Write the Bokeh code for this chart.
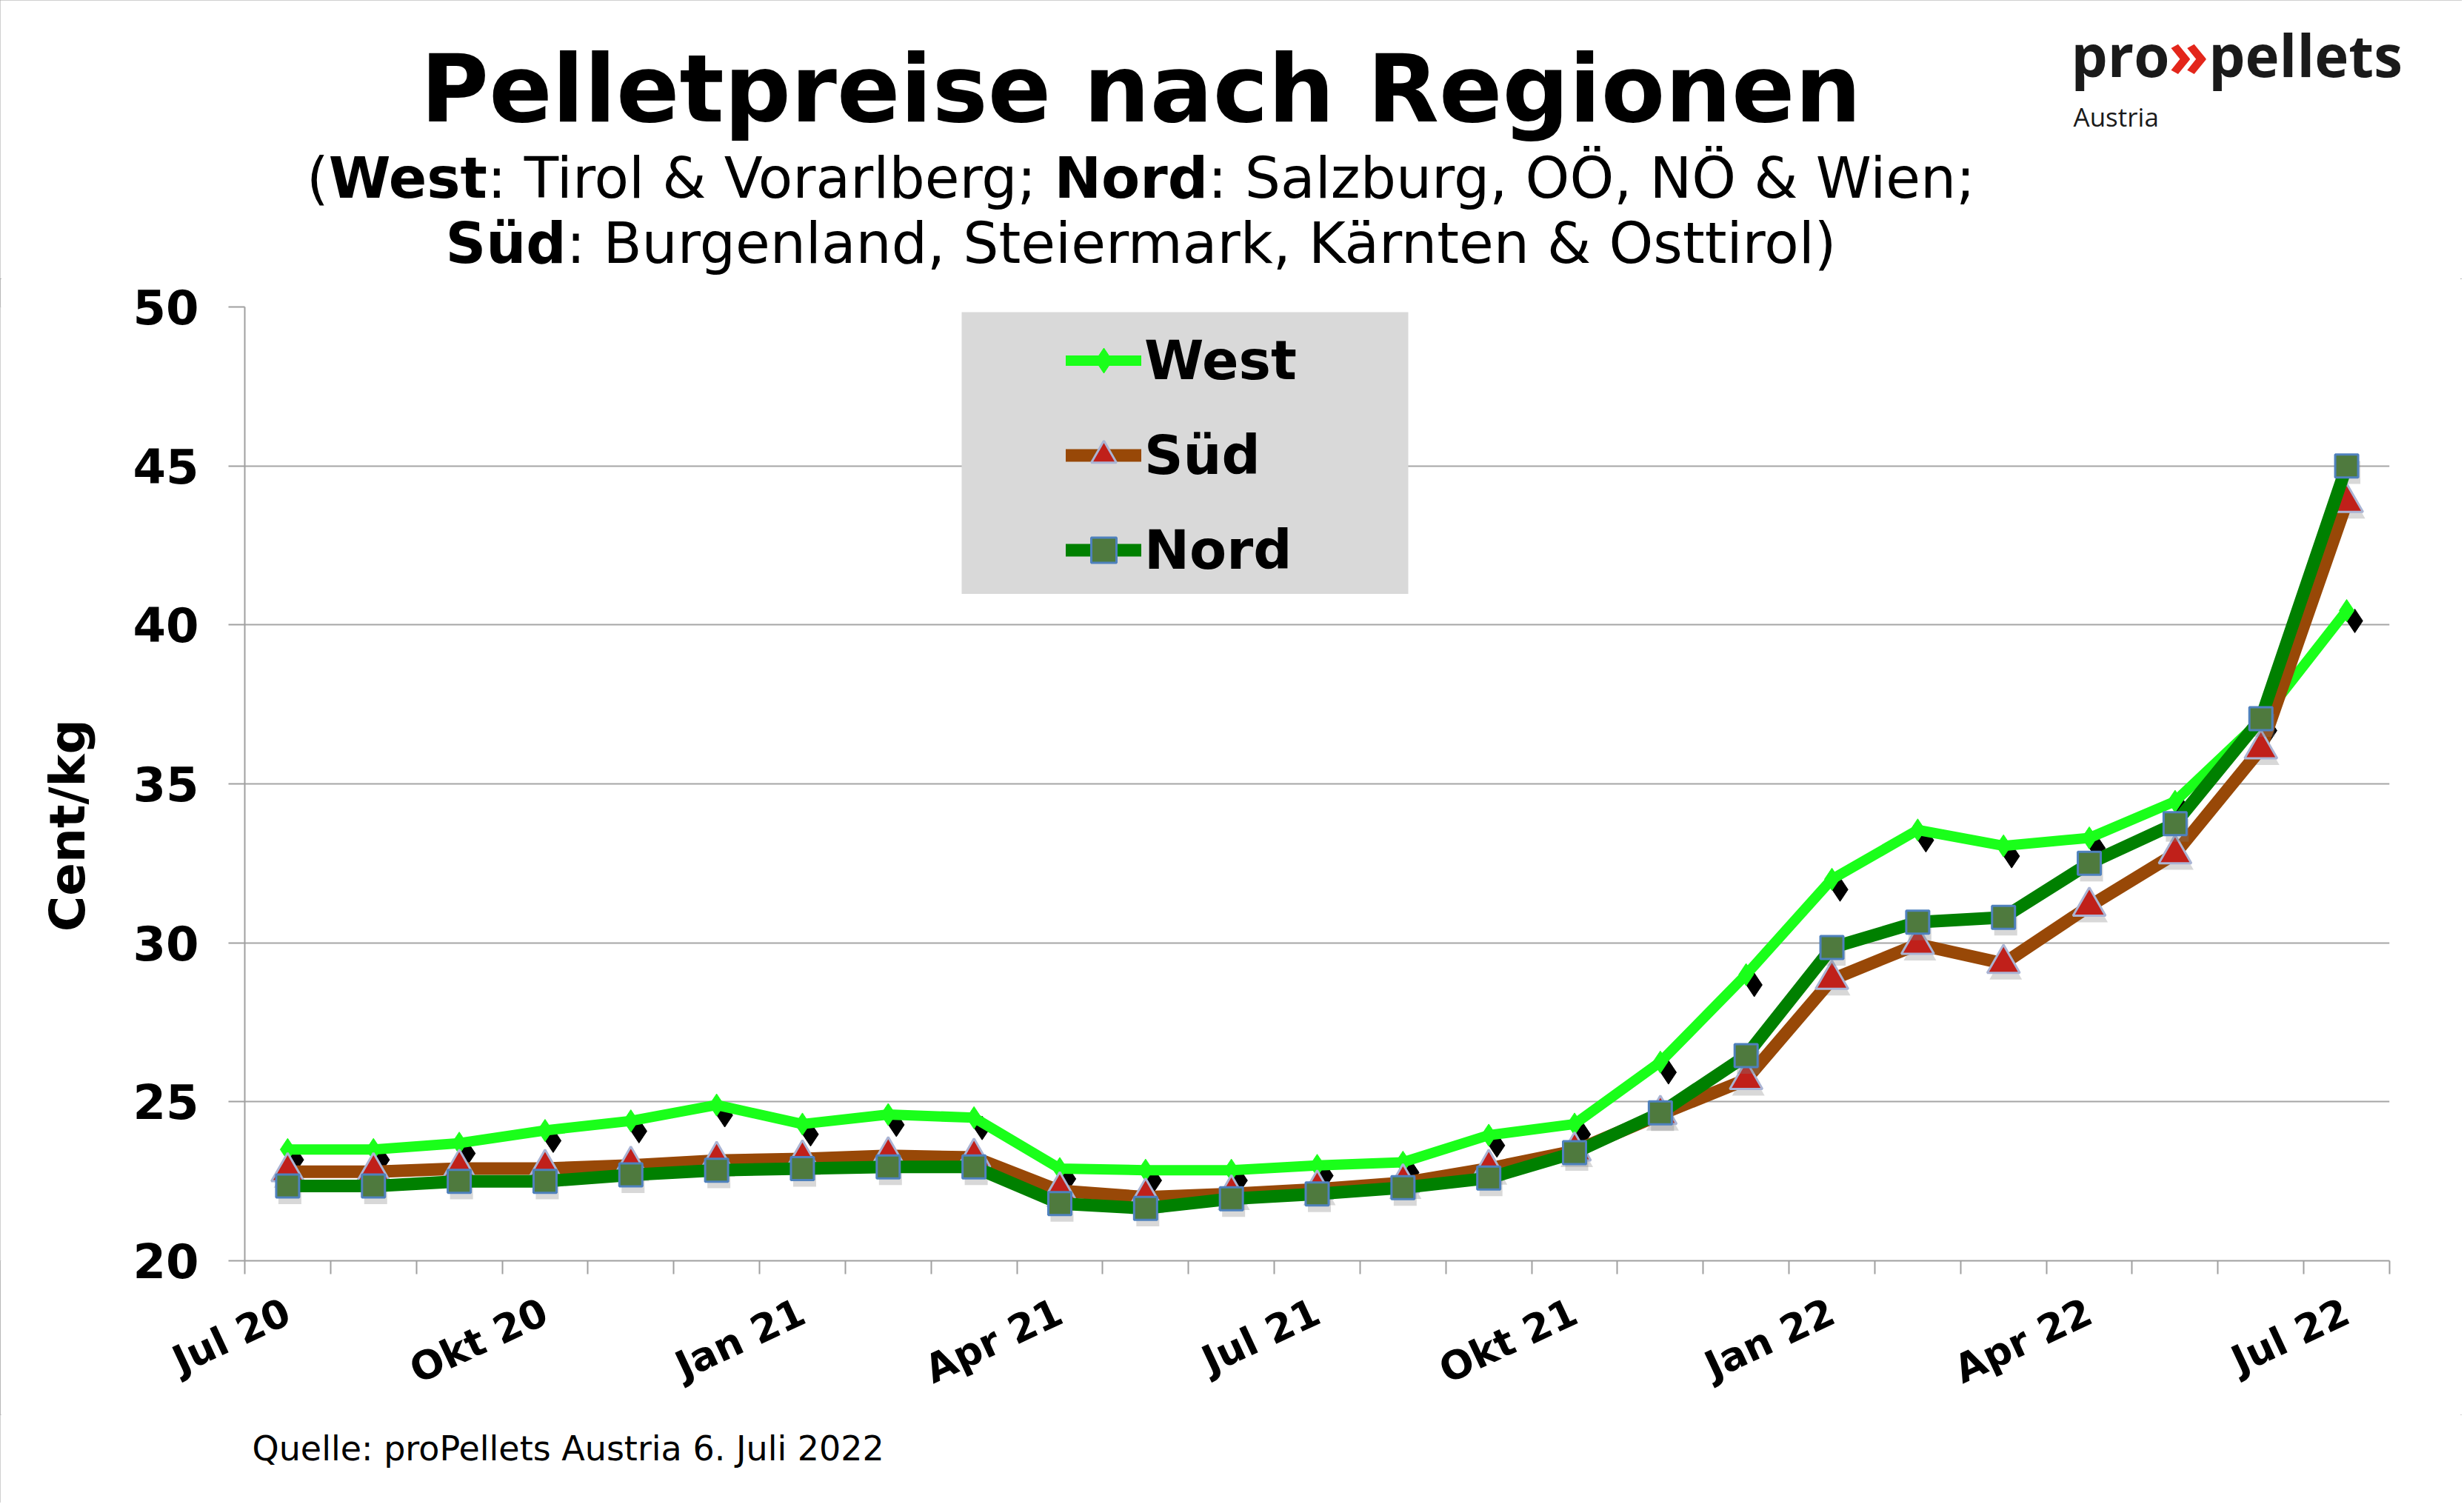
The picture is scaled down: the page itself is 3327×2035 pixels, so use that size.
import glob
import math

from bokeh.core.properties import value
from bokeh.embed import file_html
from bokeh.layouts import column, row
from bokeh.models import (BoxAnnotation, ColumnDataSource, FixedTicker, Legend,
                          LegendItem, Range1d)
from bokeh.plotting import figure
from bokeh.resources import INLINE

# ---------------------------------------------------------------- data
months = ["Jul 20", "Aug 20", "Sep 20", "Okt 20", "Nov 20", "Dez 20",
          "Jan 21", "Feb 21", "Mär 21", "Apr 21", "Mai 21", "Jun 21",
          "Jul 21", "Aug 21", "Sep 21", "Okt 21", "Nov 21", "Dez 21",
          "Jan 22", "Feb 22", "Mär 22", "Apr 22", "Mai 22", "Jun 22", "Jul 22"]

west = [23.5, 23.5, 23.7, 24.1, 24.4, 24.9, 24.3, 24.6, 24.5, 22.9, 22.85, 22.85,
        23.0, 23.1, 23.95, 24.3, 26.25, 29.0, 32.0, 33.55, 33.05, 33.3, 34.45,
        37.0, 40.45]
sued = [22.8, 22.8, 22.9, 22.9, 23.0, 23.15, 23.2, 23.3, 23.25, 22.2, 22.0, 22.1,
        22.25, 22.45, 22.9, 23.45, 24.6, 25.7, 28.85, 29.95, 29.35, 31.15, 32.8,
        36.1, 43.85]
nord = [22.35, 22.35, 22.5, 22.5, 22.7, 22.85, 22.9, 22.95, 22.95, 21.8, 21.65,
        21.95, 22.1, 22.3, 22.6, 23.4, 24.65, 26.45, 29.85, 30.65, 30.8, 32.5,
        33.75, 37.05, 45.0]

y_ticks = [20, 25, 30, 35, 40, 45, 50]
label_step = 3

title_text = "Pelletpreise nach Regionen"
subtitle_1 = [("(", False), ("West", True), (": Tirol & Vorarlberg; ", False),
              ("Nord", True), (": Salzburg, OÖ, NÖ & Wien;", False)]
subtitle_2 = [("Süd", True), (": Burgenland, Steiermark, Kärnten & Osttirol)", False)]
y_title = "Cent/kg"
source_text = "Quelle: proPellets Austria 6. Juli 2022"

# ---------------------------------------------------------------- layout (canvas px)
W, H = 3324, 2029
HEAD_H = 376            # title block
SIDE_W = 150            # strip holding the y title
MAIN_BOTTOM = 1910      # footer starts here
FL, FR, FT, FB = 330, 3226, 414, 1710      # plot frame edges
FONT = "DejaVu Sans"
LOGO = "Open Sans"
BASELINE_LIFT = 0.37    # text glyph "alphabetic" anchor sits this far (in em) below the baseline

n = len(months)
x_start, x_end = -0.5, n - 0.5
y_start, y_end = y_ticks[0], y_ticks[-1]
px_x = (FR - FL) / (x_end - x_start)
px_y = (FB - FT) / (y_end - y_start)


def dx(px):
    return x_start + (px - FL) / px_x


def dy(py):
    return y_end - (py - FT) / px_y


def _font_file(name):
    for root in ("/usr/share/fonts", "/usr/local/share/fonts"):
        hits = glob.glob(f"{root}/**/{name}", recursive=True)
        if hits:
            return hits[0]
    return None


def text_width(s, fname, size, fallback=0.62):
    path = _font_file(fname)
    if path:
        try:
            from PIL import ImageFont
            return ImageFont.truetype(path, size).getlength(s)
        except Exception:
            pass
    return fallback * size * len(s)


def blank(width, height):
    """Axis-less panel whose data units are canvas pixels (y up)."""
    f = figure(width=width, height=height, output_backend="svg", toolbar_location=None,
               title=None, x_range=Range1d(0, width), y_range=Range1d(0, height),
               x_axis_type=None, y_axis_type=None, min_border=0)
    f.outline_line_color = None
    f.background_fill_color = "white"
    f.border_fill_color = "white"
    return f


def put(f, x, y, text, font=FONT, size=50, bold=False, color="black",
        align="left", baseline="alphabetic", angle=0.0):
    if baseline == "alphabetic":
        y += BASELINE_LIFT * size
    f.text(x=[x], y=[y], text=[text], text_font=value(font),
           text_font_size=f"{size}px", text_font_style="bold" if bold else "normal",
           text_color=color, text_align=align, text_baseline=baseline, angle=angle)


# ---------------------------------------------------------------- header
head = blank(W, HEAD_H)
CENTER = 1540
put(head, CENTER, HEAD_H - 167, title_text, size=126, bold=True, align="center")


def rich_line(parts, baseline, size):
    widths = [text_width(t, "DejaVuSans-Bold.ttf" if b else "DejaVuSans.ttf", size,
                         0.68 if b else 0.6) for t, b in parts]
    x = CENTER - sum(widths) / 2
    for (t, b), w in zip(parts, widths):
        put(head, x, HEAD_H - baseline, t, size=size, bold=b)
        x += w


rich_line(subtitle_1, 268, 76)
rich_line(subtitle_2, 356, 76)

lx = 2796
for part, col, fs in (("pro", "#1a1a1a", 78), ("»", "#e3261b", 88), ("pellets", "#1a1a1a", 78)):
    put(head, lx, HEAD_H - 102, part, font=LOGO, size=fs, bold=True, color=col)
    lx += text_width(part, "OpenSans-Bold.ttf", fs, 0.56)
put(head, 2799, HEAD_H - 170, "Austria", font=LOGO, size=35, color="#1a1a1a")

# ---------------------------------------------------------------- y title strip
MAIN_H = MAIN_BOTTOM - HEAD_H
side = blank(SIDE_W, MAIN_H)
put(side, 91, MAIN_H - (1210 - HEAD_H), y_title, size=66, bold=True,
    align="center", baseline="middle", angle=math.pi / 2)

# ---------------------------------------------------------------- chart
p = figure(width=W - SIDE_W, height=MAIN_H, output_backend="svg", toolbar_location=None,
           title=None, x_range=Range1d(x_start, x_end), y_range=Range1d(y_start, y_end),
           min_border_left=FL - SIDE_W, min_border_right=W - FR,
           min_border_top=FT - HEAD_H, min_border_bottom=MAIN_BOTTOM - FB)
p.outline_line_color = None
p.background_fill_color = "white"
p.border_fill_color = "white"


def shifted(name, sx, sy):
    p.extra_x_ranges[name] = Range1d(x_start - sx / px_x, x_end - sx / px_x)
    p.extra_y_ranges[name] = Range1d(y_start + sy / px_y, y_end + sy / px_y)


shifted("dia", 11, 14)    # dark drop shadow of the diamonds
shifted("soft", 3, 9)     # soft shadow under triangles / squares

xa = p.xaxis[0]
xa.ticker = FixedTicker(ticks=list(range(0, n, label_step)),
                        minor_ticks=[i - 0.5 for i in range(n + 1)])
xa.major_label_overrides = {i: months[i] for i in range(0, n, label_step)}
xa.major_tick_line_color = None
xa.major_tick_out = 0
xa.major_tick_in = 0
xa.minor_tick_line_color = "#a0a0a0"
xa.minor_tick_line_width = 2
xa.minor_tick_out = 18
xa.minor_tick_in = 0
xa.axis_line_color = "#a0a0a0"
xa.axis_line_width = 2
xa.major_label_orientation = math.radians(25)
xa.major_label_text_font = FONT
xa.major_label_text_font_style = "bold"
xa.major_label_text_font_size = "53px"
xa.major_label_text_color = "black"
xa.major_label_standoff = 48

ya = p.yaxis[0]
ya.ticker = FixedTicker(ticks=y_ticks)
ya.major_tick_line_color = "#a0a0a0"
ya.major_tick_line_width = 2
ya.major_tick_out = 22
ya.major_tick_in = 0
ya.minor_tick_line_color = None
ya.axis_line_color = "#a0a0a0"
ya.axis_line_width = 2
ya.major_label_text_font = FONT
ya.major_label_text_font_style = "bold"
ya.major_label_text_font_size = "64px"
ya.major_label_text_color = "black"
ya.major_label_standoff = 40

p.xgrid.visible = False
p.ygrid.ticker = FixedTicker(ticks=y_ticks)
p.ygrid.grid_line_color = "#a6a6a6"
p.ygrid.grid_line_width = 2

p.add_layout(BoxAnnotation(left=dx(1298), right=dx(1901), top=dy(421), bottom=dy(804),
                           fill_color="#d9d9d9", fill_alpha=1.0, line_color=None,
                           level="underlay"))

src = ColumnDataSource(dict(x=list(range(n)), month=months, west=west, sued=sued, nord=nord))

# West
p.scatter("x", "west", source=src, marker="diamond", size=32, fill_color="black",
          line_color="black", x_range_name="dia", y_range_name="dia")
w_line = p.line("x", "west", source=src, line_color="#1aff1a", line_width=14,
                line_join="round", line_cap="round")
w_mark = p.scatter("x", "west", source=src, marker="diamond", size=30,
                   fill_color="#1aff1a", line_color="#1aff1a")

# Süd
p.scatter("x", "sued", source=src, marker="triangle", size=44, fill_color="#7f7f7f",
          fill_alpha=0.3, line_color=None, x_range_name="soft", y_range_name="soft")
s_line = p.line("x", "sued", source=src, line_color="#984807", line_width=17,
                line_join="round", line_cap="round")
s_mark = p.scatter("x", "sued", source=src, marker="triangle", size=44,
                   fill_color="#c0201a", line_color="#aab4d4", line_width=3)

# Nord
p.scatter("x", "nord", source=src, marker="square", size=31, fill_color="#7f7f7f",
          fill_alpha=0.3, line_color=None, x_range_name="soft", y_range_name="soft")
n_line = p.line("x", "nord", source=src, line_color="#008000", line_width=17,
                line_join="round", line_cap="round")
n_mark = p.scatter("x", "nord", source=src, marker="square", size=31,
                   fill_color="#4f7a3e", line_color="#4f81bd", line_width=3)

legend = Legend(items=[LegendItem(label="West", renderers=[w_line, w_mark]),
                       LegendItem(label="Süd", renderers=[s_line, s_mark]),
                       LegendItem(label="Nord", renderers=[n_line, n_mark])],
                location=(1439 - FL, FB - 793),
                glyph_width=102, glyph_height=85, label_standoff=4,
                spacing=43, padding=10,
                label_text_font=FONT, label_text_font_style="bold",
                label_text_font_size="73px", label_text_color="black",
                background_fill_alpha=0, border_line_color=None)
p.add_layout(legend)

# ---------------------------------------------------------------- footer
FOOT_H = H - MAIN_BOTTOM
foot = blank(W, FOOT_H)
put(foot, 340, FOOT_H - (1973 - MAIN_BOTTOM), source_text, size=46)

page = column(head, row(side, p, spacing=0), foot, spacing=0)
page.styles = {"outline": "2px solid #a0a0a0", "outline-offset": "-2px"}

open("out.html", "w").write(file_html(page, INLINE))
